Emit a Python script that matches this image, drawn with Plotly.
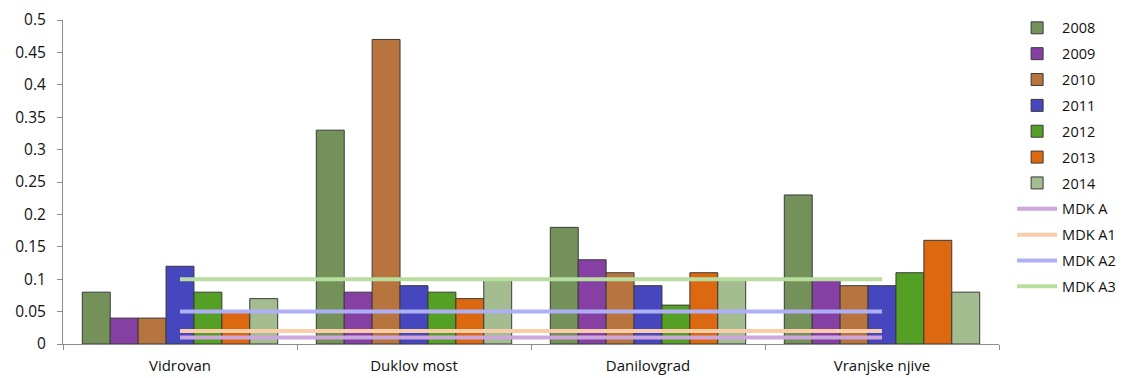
import plotly.graph_objects as go

categories = ["Vidrovan", "Duklov most", "Danilovgrad", "Vranjske njive"]
years = ["2008", "2009", "2010", "2011", "2012", "2013", "2014"]
values = {
    "2008": [0.08, 0.33, 0.18, 0.23],
    "2009": [0.04, 0.08, 0.13, 0.10],
    "2010": [0.04, 0.47, 0.11, 0.09],
    "2011": [0.12, 0.09, 0.09, 0.09],
    "2012": [0.08, 0.08, 0.06, 0.11],
    "2013": [0.05, 0.07, 0.11, 0.16],
    "2014": [0.07, 0.10, 0.10, 0.08],
}
bar_colors = {
    "2008": "#739159",
    "2009": "#8640A4",
    "2010": "#B8743F",
    "2011": "#4646BE",
    "2012": "#53A024",
    "2013": "#DC6810",
    "2014": "#A3BD90",
}
limit_names = ["MDK A", "MDK A1", "MDK A2", "MDK A3"]
limit_values = [0.01, 0.02, 0.05, 0.10]
limit_colors = ["#CDA6DE", "#F9CDA8", "#AFAFF5", "#B8DE9F"]

fig = go.Figure()
for y in years:
    fig.add_trace(go.Bar(
        x=categories, y=values[y], name=y, legendgroup=y,
        marker=dict(color=bar_colors[y], line=dict(color="#3A3A3A", width=1)),
    ))
for n, v, c in zip(limit_names, limit_values, limit_colors):
    fig.add_trace(go.Scatter(
        x=categories, y=[v] * len(categories), name=n, legendgroup=n,
        mode="lines", line=dict(color=c, width=4),
    ))

fig.update_layout(
    width=1126, height=378,
    margin=dict(l=55, r=135, t=12, b=42, autoexpand=False),
    paper_bgcolor="white", plot_bgcolor="white",
    barmode="group", bargap=0.165, bargroupgap=0,
    font=dict(family="Open Sans, DejaVu Sans, sans-serif", size=13, color="#111111"),
    legend=dict(x=1.014, xanchor="left", y=1.025, yanchor="top",
                tracegroupgap=4, font=dict(size=14.5), itemwidth=40,
                maxheight=400),
    showlegend=True,
)
fig.update_yaxes(range=[0, 0.5], dtick=0.05, showgrid=False, zeroline=False,
                 showline=True, linecolor="#8C8C8C", linewidth=1,
                 ticks="outside", ticklen=5, tickcolor="#8C8C8C",
                 tickfont=dict(size=15.5), ticklabelstandoff=8)
fig.update_xaxes(showgrid=False, showline=True, linecolor="#8C8C8C", linewidth=1,
                 ticks="outside", ticklen=5, tickcolor="#8C8C8C",
                 tickson="boundaries", tickfont=dict(size=15), ticklabelstandoff=8)

fig.write_html("out.html")
